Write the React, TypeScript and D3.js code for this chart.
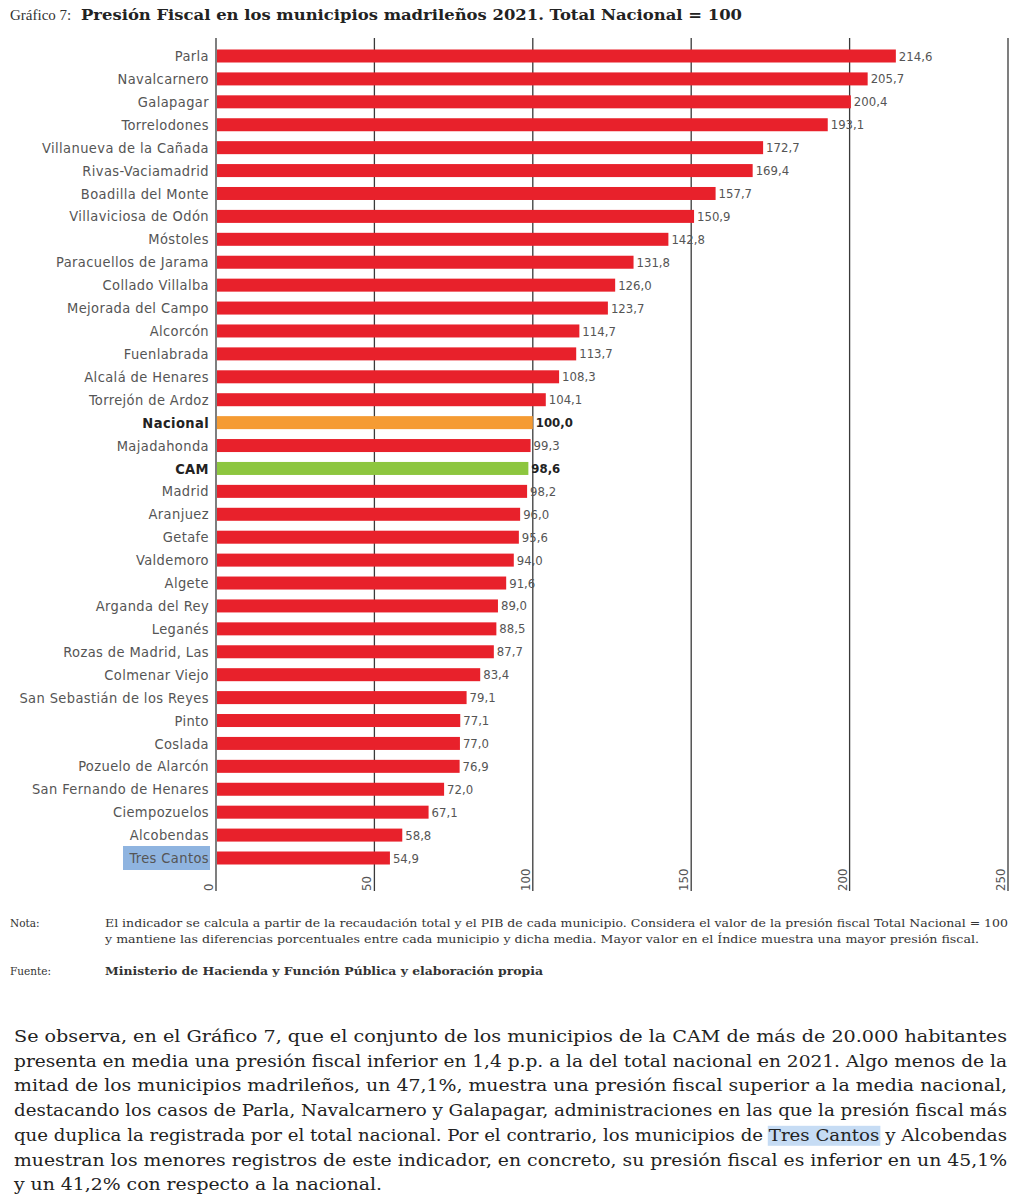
import { useEffect, useRef, useState } from "react";
import { scaleLinear, scalePoint } from "d3";

const municipios = [
  "Parla", "Navalcarnero", "Galapagar", "Torrelodones", "Villanueva de la Cañada",
  "Rivas-Vaciamadrid", "Boadilla del Monte", "Villaviciosa de Odón", "Móstoles",
  "Paracuellos de Jarama", "Collado Villalba", "Mejorada del Campo", "Alcorcón",
  "Fuenlabrada", "Alcalá de Henares", "Torrejón de Ardoz", "Nacional", "Majadahonda",
  "CAM", "Madrid", "Aranjuez", "Getafe", "Valdemoro", "Algete", "Arganda del Rey",
  "Leganés", "Rozas de Madrid, Las", "Colmenar Viejo", "San Sebastián de los Reyes",
  "Pinto", "Coslada", "Pozuelo de Alarcón", "San Fernando de Henares", "Ciempozuelos",
  "Alcobendas", "Tres Cantos",
];

const presion = [
  214.6, 205.7, 200.4, 193.1, 172.7, 169.4, 157.7, 150.9, 142.8, 131.8, 126.0, 123.7,
  114.7, 113.7, 108.3, 104.1, 100.0, 99.3, 98.6, 98.2, 96.0, 95.6, 94.0, 91.6, 89.0,
  88.5, 87.7, 83.4, 79.1, 77.1, 77.0, 76.9, 72.0, 67.1, 58.8, 54.9,
];

const xTicks = [0, 50, 100, 150, 200, 250];

const notaLines = [
  "El indicador se calcula a partir de la recaudación total y el PIB de cada municipio. Considera el valor de la presión fiscal Total Nacional = 100",
  "y mantiene las diferencias porcentuales entre cada municipio y dicha media. Mayor valor en el Índice muestra una mayor presión fiscal.",
];

const fuente = "Ministerio de Hacienda y Función Pública y elaboración propia";

const parrafo = [
  "Se observa, en el Gráfico 7, que el conjunto de los municipios de la CAM de más de 20.000 habitantes",
  "presenta en media una presión fiscal inferior en 1,4 p.p. a la del total nacional en 2021. Algo menos de la",
  "mitad de los municipios madrileños, un 47,1%, muestra una presión fiscal superior a la media nacional,",
  "destacando los casos de Parla, Navalcarnero y Galapagar, administraciones en las que la presión fiscal más",
  "que duplica la registrada por el total nacional. Por el contrario, los municipios de Tres Cantos y Alcobendas",
  "muestran los menores registros de este indicador, en concreto, su presión fiscal es inferior en un 45,1%",
  "y un 41,2% con respecto a la nacional.",
];

const RED = "#e8212b";
const ORANGE = "#f59b33";
const GREEN = "#8dc63f";
const labelFont = "'DejaVu Sans Condensed', 'DejaVu Sans', sans-serif";
const serif = "'DejaVu Serif', 'Liberation Serif', serif";

function barColor(name: string) {
  if (name === "Nacional") return ORANGE;
  if (name === "CAM") return GREEN;
  return RED;
}

export default function App() {
  const x = scaleLinear().domain([0, 250]).range([216, 1008]);
  const y = scalePoint<string>().domain(municipios).range([56, 858]);
  const barH = 13;
  const gridTop = 38;
  const gridBottom = 891;

  const paraRef = useRef<SVGTextElement>(null);
  const [hl, setHl] = useState<{ x: number; w: number } | null>(null);

  useEffect(() => {
    const el = paraRef.current;
    if (!el) return;
    const txt = parrafo[4];
    const i = txt.indexOf("Tres Cantos");
    const a = el.getExtentOfChar(i);
    const b = el.getExtentOfChar(i + "Tres Cantos".length - 1);
    setHl({ x: a.x - 1, w: b.x + b.width - a.x + 2 });
  }, []);

  const paraTop = 1042;
  const paraStep = 24.7;

  return (
    <svg
      width={1017}
      height={1200}
      style={{ position: "absolute", left: 0, top: 0, background: "#fff" }}
    >
      {/* Title */}
      <text x={10} y={20} fontFamily="'Liberation Serif', serif" fontSize={15} fill="#333">
        Gráfico 7:
      </text>
      <text x={81} y={20} fontFamily={serif} fontSize={15} fontWeight="bold" fill="#222" textLength={661} lengthAdjust="spacingAndGlyphs">
        Presión Fiscal en los municipios madrileños 2021. Total Nacional = 100
      </text>

      {/* Grid lines */}
      {xTicks.map((t) => (
        <g key={t}>
          <line x1={x(t)} x2={x(t)} y1={gridTop} y2={gridBottom} stroke="#3a3a3a" strokeWidth={1.3} />
          <text
            transform={`translate(${x(t) - 3},${gridBottom}) rotate(-90)`}
            fontFamily={labelFont}
            fontSize={13}
            fill="#555"
          >
            {t}
          </text>
        </g>
      ))}

      {/* Highlight behind Tres Cantos */}
      <rect x={123} y={(y("Tres Cantos") ?? 0) - 12} width={87} height={24} fill="#8fb4e0" />

      {/* Bars */}
      {municipios.map((m, i) => {
        const cy = y(m) ?? 0;
        const bold = m === "Nacional" || m === "CAM";
        return (
          <g key={m}>
            <rect x={x(0) + 1} y={cy - barH / 2} width={x(presion[i]) - x(0) - 1} height={barH} fill={barColor(m)} />
            <text
              x={209}
              y={cy}
              dy="0.35em"
              textAnchor="end"
              fontFamily={labelFont}
              fontSize={14.5}
              letterSpacing={0.4}
              fontWeight={bold ? "bold" : "normal"}
              fill={bold ? "#222" : "#555"}
            >
              {m}
            </text>
            <text
              x={x(presion[i]) + 3}
              y={cy}
              dy="0.35em"
              fontFamily={labelFont}
              fontSize={13}
              fontWeight={bold ? "bold" : "normal"}
              fill={bold ? "#222" : "#555"}
            >
              {presion[i].toFixed(1).replace(".", ",")}
            </text>
          </g>
        );
      })}

      {/* Nota & Fuente */}
      <text x={10} y={927} fontFamily={serif} fontSize={10.5} fill="#333">Nota:</text>
      {notaLines.map((l, i) => (
        <text
          key={i}
          x={105}
          y={927 + i * 16}
          fontFamily={serif}
          fontSize={10.5}
          fill="#333"
          textLength={i === 0 ? 903 : 874}
          lengthAdjust="spacingAndGlyphs"
        >
          {l}
        </text>
      ))}
      <text x={10} y={975} fontFamily={serif} fontSize={10.5} fill="#333">Fuente:</text>
      <text x={105} y={975} fontFamily={serif} fontSize={10.5} fontWeight="bold" fill="#333" textLength={438} lengthAdjust="spacingAndGlyphs">{fuente}</text>

      {/* Paragraph */}
      {hl && (
        <rect x={hl.x} y={paraTop + 4 * paraStep - 15} width={hl.w} height={20} fill="#c6dcf4" />
      )}
      {parrafo.map((l, i) => (
        <text
          key={i}
          ref={i === 4 ? paraRef : undefined}
          x={14}
          y={paraTop + i * paraStep}
          fontFamily={serif}
          fontSize={16}
          fill="#222"
          textLength={i < parrafo.length - 1 ? 993 : 368}
          lengthAdjust="spacingAndGlyphs"
        >
          {l}
        </text>
      ))}
    </svg>
  );
}
